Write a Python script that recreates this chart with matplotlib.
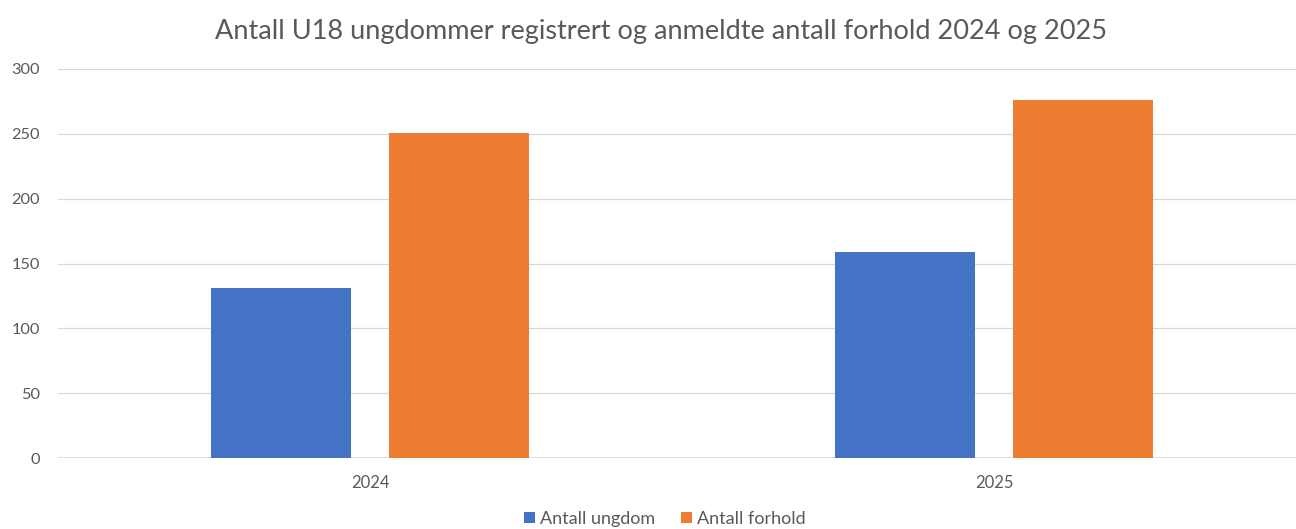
import matplotlib
matplotlib.use("Agg")
import matplotlib.pyplot as plt
from matplotlib.patches import Patch
import numpy as np

categories = ["2024", "2025"]
antall_ungdom = [131, 159]
antall_forhold = [251, 276]
series_names = ["Antall ungdom", "Antall forhold"]
colors = ["#4472C4", "#ED7D31"]
title = "Antall U18 ungdommer registrert og anmeldte antall forhold 2024 og 2025"
yticks = [0, 50, 100, 150, 200, 250, 300]

plt.rcParams['font.family'] = ['Lato', 'DejaVu Sans']
text_color = "#595959"
grid_color = "#D9D9D9"

W, H = 1296, 529
fig = plt.figure(figsize=(W / 100, H / 100), dpi=100)
fig.patch.set_facecolor("white")

left, right, top, bottom = 58, 1306, 69, 458
ax = fig.add_axes([left / W, (H - bottom) / H, (right - left) / W, (bottom - top) / H])

x = np.arange(len(categories))
bw = 140 / 624
off = 89 / 624
ax.bar(x - off, antall_ungdom, width=bw, color=colors[0], zorder=3)
ax.bar(x + off, antall_forhold, width=bw, color=colors[1], zorder=3)

ax.set_xlim(-0.5, len(categories) - 0.5)
ax.set_ylim(0, 300)
ax.set_yticks(yticks)
ax.set_yticklabels([str(v) for v in yticks])
ax.set_xticks(x)
ax.set_xticklabels(categories)
ax.yaxis.grid(True, color=grid_color, linewidth=0.9, zorder=0)
ax.set_axisbelow(True)
for s in ["top", "right", "left", "bottom"]:
    ax.spines[s].set_visible(False)
ax.axhline(0, color=grid_color, linewidth=1.1, zorder=2)
ax.tick_params(axis="y", length=0, pad=13, labelsize=11.8, labelcolor=text_color)
ax.tick_params(axis="x", length=0, pad=12, labelsize=12, labelcolor=text_color)

fig.text(661 / W, 1 - 32 / H, title, ha="center", va="center", fontsize=19.5, color=text_color)

handles = [Patch(facecolor=c, edgecolor="none") for c in colors]
fig.legend(handles, series_names, loc="center", bbox_to_anchor=(665 / W, 1 - 519 / H),
           ncol=2, frameon=False, fontsize=13, labelcolor=text_color,
           handlelength=0.6, handleheight=0.6, handletextpad=0.3, columnspacing=1.4)

fig.savefig("out.png", dpi=100, facecolor="white")
